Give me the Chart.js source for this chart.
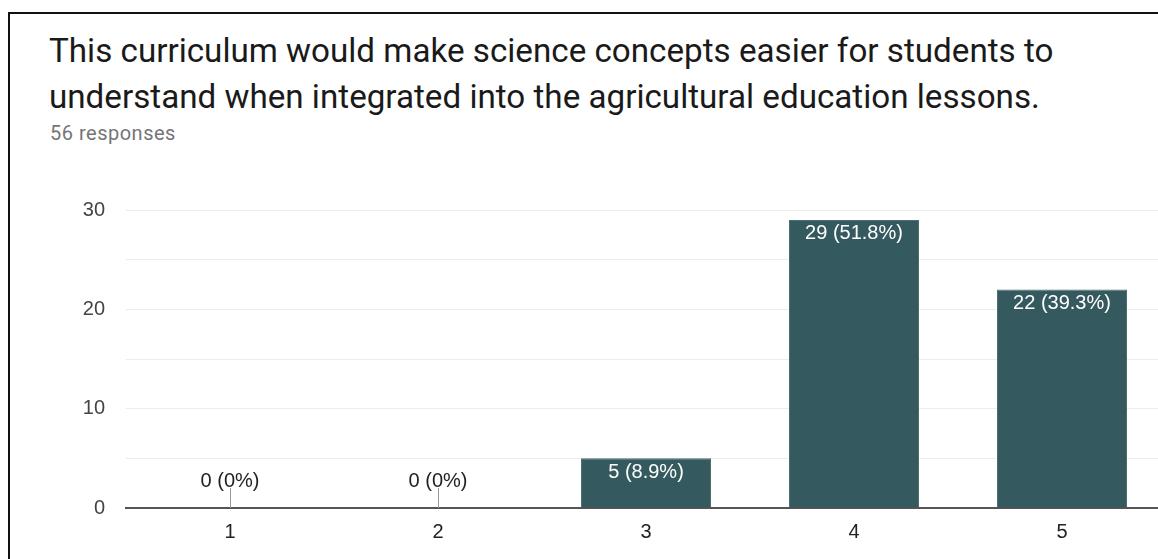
<!DOCTYPE html>
<html lang="en">
<head>
  <meta charset="UTF-8">
  <title>Survey response chart</title>
  <script src="https://cdn.jsdelivr.net/npm/chart.js"></script>
  <style>
    html, body { margin: 0; padding: 0; background: #fff; overflow: hidden; width: 1158px; height: 559px; }
    #frame { position: absolute; left: 8px; top: 12px; width: 1300px; height: 700px;
             border-left: 2px solid #111; border-top: 2px solid #111; }
    #title { position: absolute; left: 49px; top: 28px; font-family: Roboto, sans-serif;
             font-size: 33.2px; line-height: 45.5px; color: #1a1a1a; white-space: nowrap; }
    #sub { position: absolute; left: 50px; top: 121px; font-family: Roboto, sans-serif;
           font-size: 20px; letter-spacing: 0.5px; color: #757575; }
    #chart { position: absolute; left: 0; top: 0; }
  </style>
</head>
<body>
  <div id="frame"></div>
  <div id="title">This curriculum would make science concepts easier for students to<br>understand when integrated into the agricultural education lessons.</div>
  <div id="sub">56 responses</div>
  <canvas id="chart" width="1200" height="559"></canvas>

  <script>
    const categories = ['1', '2', '3', '4', '5'];
    const counts = [0, 0, 5, 29, 22];
    const yTicks = [0, 10, 20, 30];

    const total = counts.reduce((a, b) => a + b, 0);
    function label(v) {
      let p = Math.round(v / total * 1000) / 10;
      return v + ' (' + p + '%)';
    }

    // value labels: white inside the bar, or above a small stem when zero
    const barLabels = {
      id: 'barLabels',
      afterDatasetsDraw(chart) {
        const ctx = chart.ctx;
        const meta = chart.getDatasetMeta(0);
        const y0 = chart.scales.y.getPixelForValue(0);
        ctx.save();
        ctx.font = '20px "Liberation Sans", Arial, sans-serif';
        ctx.textAlign = 'center';
        meta.data.forEach((bar, i) => {
          const v = counts[i];
          if (v === 0) {
            ctx.strokeStyle = '#999';
            ctx.lineWidth = 1;
            ctx.beginPath();
            ctx.moveTo(Math.round(bar.x) + 0.5, y0 - 20);
            ctx.lineTo(Math.round(bar.x) + 0.5, y0);
            ctx.stroke();
            ctx.fillStyle = '#222';
            ctx.textBaseline = 'alphabetic';
            ctx.fillText(label(v), bar.x, y0 - 21);
          } else {
            ctx.fillStyle = '#fff';
            ctx.textBaseline = 'top';
            ctx.fillText(label(v), bar.x, bar.y + 4);
          }
        });
        ctx.restore();
      }
    };

    new Chart(document.getElementById('chart').getContext('2d'), {
      type: 'bar',
      data: {
        labels: categories,
        datasets: [{
          data: counts,
          backgroundColor: '#34595e',
          borderColor: '#4d6e72',
          borderWidth: 1,
          categoryPercentage: 1,
          barPercentage: 0.625
        }]
      },
      options: {
        responsive: false,
        animation: false,
        layout: { padding: { top: 210, right: 34, left: 0, bottom: 0 } },
        plugins: { legend: { display: false }, tooltip: { enabled: false } },
        scales: {
          x: {
            grid: { display: false, drawTicks: false },
            border: { color: '#555', width: 2 },
            ticks: { color: '#222', padding: 12, font: { family: '"Liberation Sans", Arial', size: 20 } },
            afterFit: (s) => { s.height = 51; }
          },
          y: {
            min: 0,
            max: 30,
            ticks: {
              stepSize: 5,
              color: '#444',
              padding: 21,
              font: { family: '"Liberation Sans", Arial', size: 20 },
              callback: (v) => yTicks.includes(v) ? v : ''
            },
            grid: {
              drawTicks: false,
              color: (c) => c.tick && c.tick.value === 0 ? 'rgba(0,0,0,0)' : '#ececec'
            },
            border: { display: false },
            afterFit: (s) => { s.width = 126; }
          }
        }
      },
      plugins: [barLabels]
    });
  </script>
</body>
</html>
